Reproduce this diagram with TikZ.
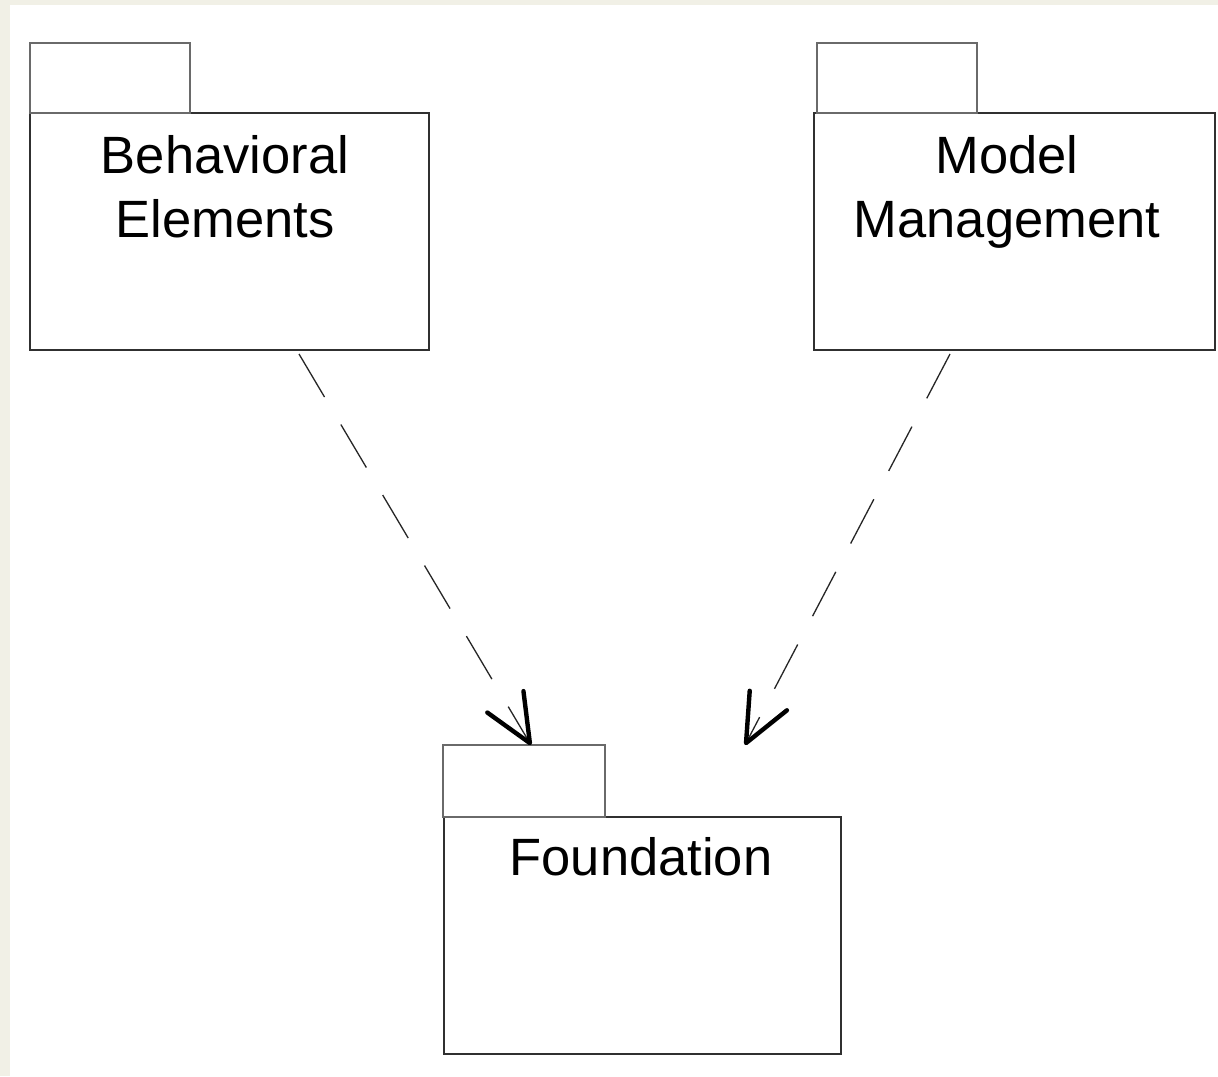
\documentclass[tikz,border=0pt]{standalone}
\usepackage{fontspec}
\setmainfont{Liberation Sans}
\usetikzlibrary{arrows.meta,calc}
\definecolor{pagebeige}{HTML}{F1F0E6}
\definecolor{bodyline}{HTML}{303030}
\definecolor{tabline}{HTML}{6A6A6A}
\begin{document}
\begin{tikzpicture}[x=0.5pt,y=-0.5pt,
  pkgbody/.style={draw=bodyline,line width=0.8pt,fill=white,inner sep=0pt,outer sep=0pt,
    minimum height=118.5pt,anchor=north west},
  pkgtab/.style={draw=tabline,line width=0.7pt,fill=white,inner sep=0pt,outer sep=0pt,
    anchor=south west},
  pkglabel/.style={align=center,inner sep=0pt,anchor=base,
    font=\fontsize{26.25pt}{32pt}\selectfont},
  dep/.style={draw=black!85,line width=0.65pt,dash pattern=on 25pt off 16pt,
    -{Straight Barb[length=24pt,width=21pt,line width=2.2pt,round,color=black]}}]
  % page background
  \useasboundingbox (0,0) rectangle (1218,1076);
  \fill[white] (0,0) rectangle (1218,1076);
  \fill[pagebeige] (0,0) rectangle (10,1076);
  \fill[pagebeige] (0,0) rectangle (1218,5);

  % Behavioral Elements package
  \node[pkgbody,minimum width=199.5pt] (be) at (30,113) {};
  \node[pkgtab,minimum width=80pt,minimum height=35pt] (betab) at (be.north west) {};
  \node[pkglabel] (belbl) at (225,237) {Behavioral\\Elements};

  % Model Management package
  \node[pkgbody,minimum width=200.5pt] (mm) at (814,113) {};
  \node[pkgtab,minimum width=80pt,minimum height=35pt] (mmtab) at ([xshift=1.5pt]mm.north west) {};
  \node[pkglabel] (mmlbl) at (1007,237) {Model\\Management};

  % Foundation package
  \node[pkgbody,minimum width=198.5pt] (fd) at (444,817) {};
  \node[pkgtab,minimum width=81pt,minimum height=36pt] (fdtab) at ([xshift=-0.5pt]fd.north west) {};
  \node[pkglabel] (fdlbl) at (641,875) {Foundation};

  % dependency ends
  \coordinate (beout) at ([xshift=134.5pt,yshift=-2pt]be.south west);
  \coordinate (mmout) at ([xshift=68pt,yshift=-2pt]mm.south west);
  \coordinate (fdin) at ([xshift=44pt]fdtab.north west);
  \coordinate (mmtip) at ([xshift=151pt]fdtab.north west);

  % dependencies
  \draw[dep] (beout) -- (fdin);
  \draw[dep] (mmout) -- (mmtip);
\end{tikzpicture}
\end{document}
